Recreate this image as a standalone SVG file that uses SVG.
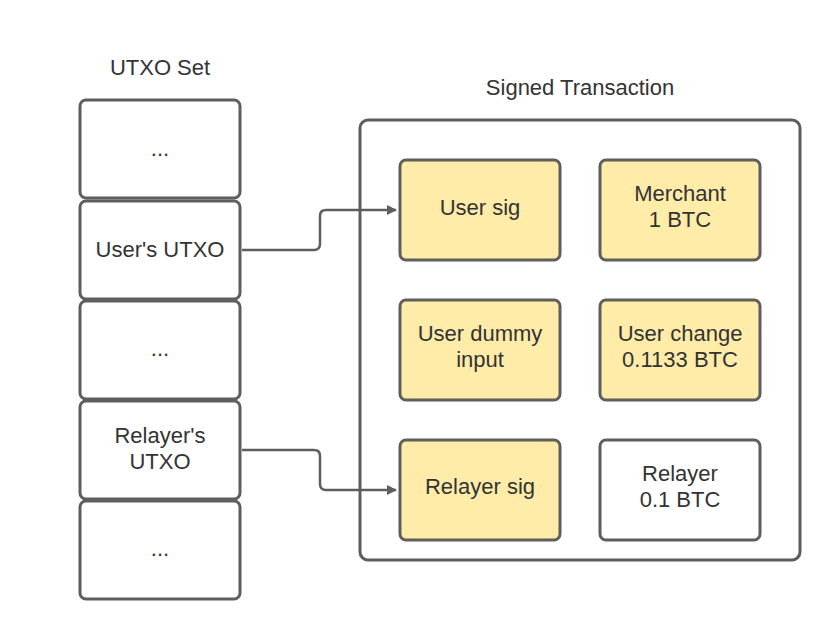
<svg xmlns="http://www.w3.org/2000/svg" width="840" height="640" viewBox="0 0 840 640">
<style>
.box{fill:#ffffff;stroke:#5e5e5e;stroke-width:3}
.y{fill:#ffeca9;stroke:#5e5e5e;stroke-width:3}
.t{font-family:"Liberation Sans",Arial,sans-serif;font-size:22px;fill:#333333;text-anchor:middle}
.c{fill:none;stroke:#5e5e5e;stroke-width:2.5}
</style>
<defs>
<marker id="ah" markerWidth="10" markerHeight="10" refX="9" refY="5" orient="auto" markerUnits="userSpaceOnUse" viewBox="0 0 10 10">
<path d="M0,0 L10,5 L0,10 z" fill="#5e5e5e"/>
</marker>
</defs>
<rect width="840" height="640" fill="#ffffff"/>
<text class="t" x="160" y="75">UTXO Set</text>
<text class="t" x="580" y="95">Signed Transaction</text>
<g id="utxo1"><rect class="box" x="80" y="100" width="160" height="98" rx="6"/><text class="t" x="160" y="156">...</text></g>
<g id="utxo-user"><rect class="box" x="80" y="201" width="160" height="98" rx="6"/><text class="t" x="160" y="257">User's UTXO</text></g>
<g id="utxo3"><rect class="box" x="80" y="301" width="160" height="98" rx="6"/><text class="t" x="160" y="356">...</text></g>
<g id="utxo-relayer"><rect class="box" x="80" y="401" width="160" height="98" rx="6"/><text class="t" x="160" y="443">Relayer's</text><text class="t" x="160" y="469">UTXO</text></g>
<g id="utxo5"><rect class="box" x="80" y="501" width="160" height="98" rx="6"/><text class="t" x="160" y="556">...</text></g>
<g id="tx"><rect class="box" x="360" y="120" width="440" height="440" rx="8"/></g>
<g id="user-sig"><rect class="y" x="400" y="160" width="160" height="100" rx="6"/><text class="t" x="480" y="215">User sig</text></g>
<g id="merchant"><rect class="y" x="600" y="160" width="160" height="100" rx="6"/><text class="t" x="680" y="201">Merchant</text><text class="t" x="680" y="227">1 BTC</text></g>
<g id="dummy"><rect class="y" x="400" y="300" width="160" height="100" rx="6"/><text class="t" x="480" y="341">User dummy</text><text class="t" x="480" y="367">input</text></g>
<g id="change"><rect class="y" x="600" y="300" width="160" height="100" rx="6"/><text class="t" x="680" y="341">User change</text><text class="t" x="680" y="367">0.1133 BTC</text></g>
<g id="relayer-sig"><rect class="y" x="400" y="440" width="160" height="100" rx="6"/><text class="t" x="480" y="494">Relayer sig</text></g>
<g id="relayer-out"><rect class="box" x="600" y="440" width="160" height="100" rx="6"/><text class="t" x="680" y="481">Relayer</text><text class="t" x="680" y="507">0.1 BTC</text></g>
<g id="connectors">
<path class="c" d="M242,250 H314 Q320,250 320,244 V216 Q320,210 326,210 H396" marker-end="url(#ah)"/>
<path class="c" d="M242,450 H314 Q320,450 320,456 V484 Q320,490 326,490 H396" marker-end="url(#ah)"/>
</g>
</svg>
